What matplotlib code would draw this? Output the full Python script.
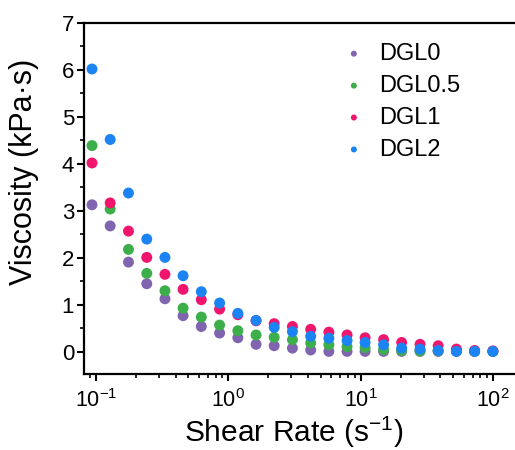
import numpy as np
import matplotlib
matplotlib.use("Agg")
import matplotlib.pyplot as plt
from matplotlib.ticker import LogLocator, MultipleLocator

plt.rcParams['font.family'] = ['Liberation Sans', 'DejaVu Sans']
plt.rcParams['mathtext.fontset'] = 'custom'
plt.rcParams['mathtext.rm'] = 'Liberation Sans'

# shear rate (1/s)
shear_rate = [0.0933, 0.128, 0.176, 0.242, 0.332, 0.455, 0.625, 0.859, 1.18, 1.62,
              2.22, 3.05, 4.19, 5.75, 7.89, 10.8, 14.9, 20.4, 28.1, 38.5,
              52.9, 72.6, 99.8]

# viscosity (kPa.s)
dgl0 = [3.13, 2.68, 1.91, 1.45, 1.13, 0.77, 0.54, 0.40, 0.30, 0.16,
        0.13, 0.08, 0.04, 0.01, 0.01, 0.01, 0.01, 0.01, 0.01, 0.01,
        0.01, 0.01, 0.01]
dgl05 = [4.39, 3.04, 2.18, 1.67, 1.30, 0.93, 0.74, 0.57, 0.45, 0.36,
         0.31, 0.26, 0.19, 0.15, 0.11, 0.09, 0.05, 0.03, 0.02, 0.02,
         0.02, 0.01, 0.01]
dgl1 = [4.02, 3.17, 2.57, 2.01, 1.65, 1.33, 1.11, 0.91, 0.79, 0.66,
        0.60, 0.54, 0.48, 0.42, 0.36, 0.30, 0.26, 0.20, 0.16, 0.13,
        0.06, 0.03, 0.02]
dgl2 = [6.02, 4.52, 3.38, 2.40, 2.01, 1.62, 1.28, 1.04, 0.82, 0.67,
        0.52, 0.43, 0.33, 0.29, 0.24, 0.20, 0.15, 0.08, 0.06, 0.03,
        0.01, 0.01, 0.01]

series = [("DGL0", dgl0, "#8064b0"),
          ("DGL0.5", dgl05, "#3cae4a"),
          ("DGL1", dgl1, "#f0166e"),
          ("DGL2", dgl2, "#1c84f2")]

fig = plt.figure(figsize=(5.15, 4.5), dpi=100)
ax = fig.add_axes([0.163, 0.169, 0.837, 0.78])

for name, vals, col in series:
    ax.scatter(shear_rate, vals, s=62, color=col, edgecolors='none', label=name)

ax.set_xscale('log')
ax.set_xlim(0.0811, 146.6)
ax.set_ylim(-0.47, 7)

ax.yaxis.set_major_locator(MultipleLocator(1))
ax.yaxis.set_minor_locator(MultipleLocator(0.5))
ax.xaxis.set_major_locator(LogLocator(base=10, numticks=10))
ax.xaxis.set_minor_locator(LogLocator(base=10, subs=np.arange(2, 10), numticks=10))

ax.tick_params(axis='both', which='major', direction='out', length=5, width=1.5, pad=2)
ax.tick_params(axis='both', which='minor', direction='out', length=3, width=1.2)
ax.tick_params(axis='y', which='major', labelsize=16)
ax.tick_params(axis='x', which='major', labelsize=15.5, pad=6)

for sp in ['left', 'bottom', 'top']:
    ax.spines[sp].set_linewidth(1.6)
ax.spines['right'].set_visible(False)

ax.set_xlabel(r'Shear Rate (s$^{-1}$)', fontsize=21.5)
ax.set_ylabel('Viscosity (kPa·s)', fontsize=22)
ax.xaxis.set_label_coords(0.487, -0.113)
ax.yaxis.set_label_coords(-0.105, 0.575)

ax.legend(loc='upper left', bbox_to_anchor=(0.555, 0.997), frameon=False,
          fontsize=17, markerscale=0.55, handlelength=1.0, handletextpad=0.56,
          labelspacing=0.42, borderpad=0.3)

fig.savefig('out.png', dpi=100)
